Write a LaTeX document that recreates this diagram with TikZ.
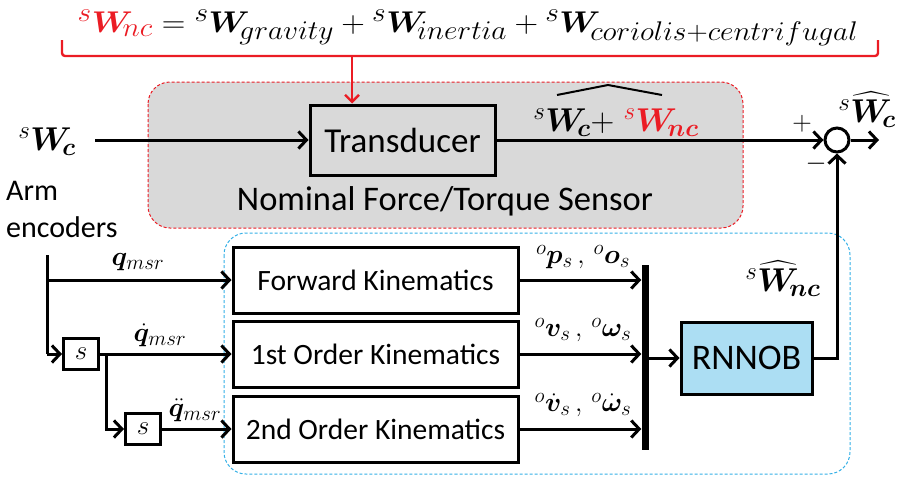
\RequirePackage{fix-cm}
\documentclass[tikz,border=0pt]{standalone}
\usepackage{amsmath,bm,graphicx}
\usepackage[no-math]{fontspec}
\setmainfont{Carlito}
\usetikzlibrary{arrows.meta}
\DeclareMathSizes{30}{30}{27}{21}
\DeclareMathSizes{33}{33}{25}{19}
\DeclareMathSizes{27}{27}{21}{16}
\definecolor{eqred}{RGB}{235,28,36}
\definecolor{grayfill}{RGB}{217,217,217}
\definecolor{bluefill}{RGB}{172,222,243}
\definecolor{dashblue}{RGB}{50,175,230}
\tikzset{
  blk/.style={draw, line width=3pt, inner sep=0pt, font=\fontsize{29.5}{31}\selectfont},
  sbox/.style={draw, line width=3pt, inner sep=0pt, minimum width=35pt, minimum height=31pt, font=\fontsize{27}{29}\selectfont},
  wire/.style={line width=3pt},
  arr/.style={line width=3pt, -{Straight Barb[length=8pt,width=17pt]}},
  lbl/.style={inner sep=0pt, font=\fontsize{27}{29}\selectfont},
  region/.style={dashed, dash pattern=on 3pt off 2pt, line width=1pt, rounded corners=22pt}
}
\begin{document}
\begin{tikzpicture}[x=1pt,y=-1pt]
\useasboundingbox (0,0) rectangle (904,479);
% regions
\draw[region, draw=eqred, fill=grayfill] (148,82) rectangle (743,228);
\draw[region, draw=dashblue] (224,233) rectangle (850,474);

% top equation
\node[inner sep=0pt, anchor=base, font=\fontsize{30}{32}\selectfont] (eq) at (468,32)
  {\scalebox{1.09}[1]{$\color{eqred}{}^{s}\bm{W}_{\!nc}\color{black} = {}^{s}\bm{W}_{\!gravity} + {}^{s}\bm{W}_{\!inertia} + {}^{s}\bm{W}_{\!coriolis+centrifugal}$}};
\draw[eqred, line width=2.4pt, rounded corners=3pt] (62,40) -- (62,56) -- (878,56) -- (878,40);
\coordinate (stem) at (352,56);

% transducer
\node[blk, minimum width=185pt, minimum height=70pt, font=\fontsize{35}{37}\selectfont] (trans) at (402.5,140) {Transducer};
\draw[eqred, line width=2.4pt, -{Straight Barb[length=7pt,width=14pt]}] (stem) -- (trans.north -| stem);
\node[inner sep=0pt, font=\fontsize{34.5}{36}\selectfont] (nom) at (445,201) {Nominal Force/Torque Sensor};

% input
\node[lbl, font=\fontsize{33}{35}\selectfont] (wcin) at (47,142) {$^{s}\bm{W}_{\!\bm{c}}$};
\coordinate (in) at (95,140);
\draw[arr] (in) -- (trans.west);

% sum
\node[draw, circle, line width=3pt, minimum size=24pt, inner sep=0pt] (sum) at (837,140) {};
\draw[arr] (trans.east) -- (sum.west);
\coordinate (out) at (879,140);
\draw[arr] (sum.east) -- (out);
\node[lbl, font=\fontsize{33}{35}\selectfont] (tlbl) at (616,123) {$^{s}\bm{W}_{\!\bm{c}}{+}\;\color{eqred}{}^{s}\bm{W}_{\!\bm{nc}}$};
\draw[line width=2pt] (557,95) -- (608,85) -- (662,95);
\node[lbl, font=\fontsize{33}{35}\selectfont] (wchat) at (867,110) {$^{s}\widehat{\bm{W}}_{\!\bm{c}}$};
\node[lbl, font=\fontsize{27}{29}\selectfont] (plus) at (802,124) {$+$};
\node[lbl, font=\fontsize{27}{29}\selectfont] (minus) at (816,164) {$-$};

% arm encoders
\node[inner sep=0pt, align=left, anchor=west, font=\fontsize{30}{37}\selectfont] (arm) at (6,209) {Arm\\encoders};

% kinematics blocks
\node[blk, minimum width=285pt, minimum height=66pt] (fk) at (375.5,280) {Forward Kinematics};
\node[blk, minimum width=285pt, minimum height=66pt] (first) at (375.5,354) {1st Order Kinematics};
\node[blk, minimum width=285pt, minimum height=66pt] (second) at (375.5,429) {2nd Order Kinematics};

% derivative boxes
\node[sbox] (s1) at (81,354) {$s$};
\node[sbox] (s2) at (143,429) {$s$};

\coordinate (enc) at (47,255);
\coordinate (encb) at (47,354);
\draw[wire] (enc) -- (encb);
\draw[arr] (encb) -- (s1.west);
\draw[arr] (enc |- fk) -- (fk.west);
\draw[arr] (s1.east) -- (first.west);
\coordinate (br2) at (106,354);
\draw[arr] (br2) |- (s2.west);
\draw[arr] (s2.east) -- (second.west);

\node[lbl] (q0) at (138,262) {$\bm{q}_{msr}$};
\node[lbl] (q1) at (160,335) {$\dot{\bm{q}}_{msr}$};
\node[lbl] (q2) at (195,410) {$\ddot{\bm{q}}_{msr}$};

% bar
\node[fill=black, inner sep=0pt, minimum width=7pt, minimum height=185pt] (bar) at (645,357.5) {};
\draw[arr] (fk.east) -- (fk.east -| bar.west);
\draw[arr] (first.east) -- (first.east -| bar.west);
\draw[arr] (second.east) -- (second.east -| bar.west);

\node[lbl] (k0) at (583,257) {$^{o}\bm{p}_{s}\,,\,{}^{o}\bm{o}_{s}$};
\node[lbl] (k1) at (583,330) {$^{o}\bm{v}_{s}\,,\,{}^{o}\bm{\omega}_{s}$};
\node[lbl] (k2) at (583,405) {$^{o}\dot{\bm{v}}_{s}\,,\,{}^{o}\dot{\bm{\omega}}_{s}$};

% RNNOB
\node[blk, fill=bluefill, minimum width=131pt, minimum height=72pt, font=\fontsize{36}{38}\selectfont] (rnn) at (746.5,358) {RNNOB};
\draw[arr] (bar.east |- rnn) -- (rnn.west);
\draw[arr] (rnn.east) -| (sum.south);
\node[lbl, font=\fontsize{33}{35}\selectfont] (wnc) at (783,279) {$^{s}\widehat{\bm{W}}_{\!\bm{nc}}$};
\end{tikzpicture}
\end{document}
